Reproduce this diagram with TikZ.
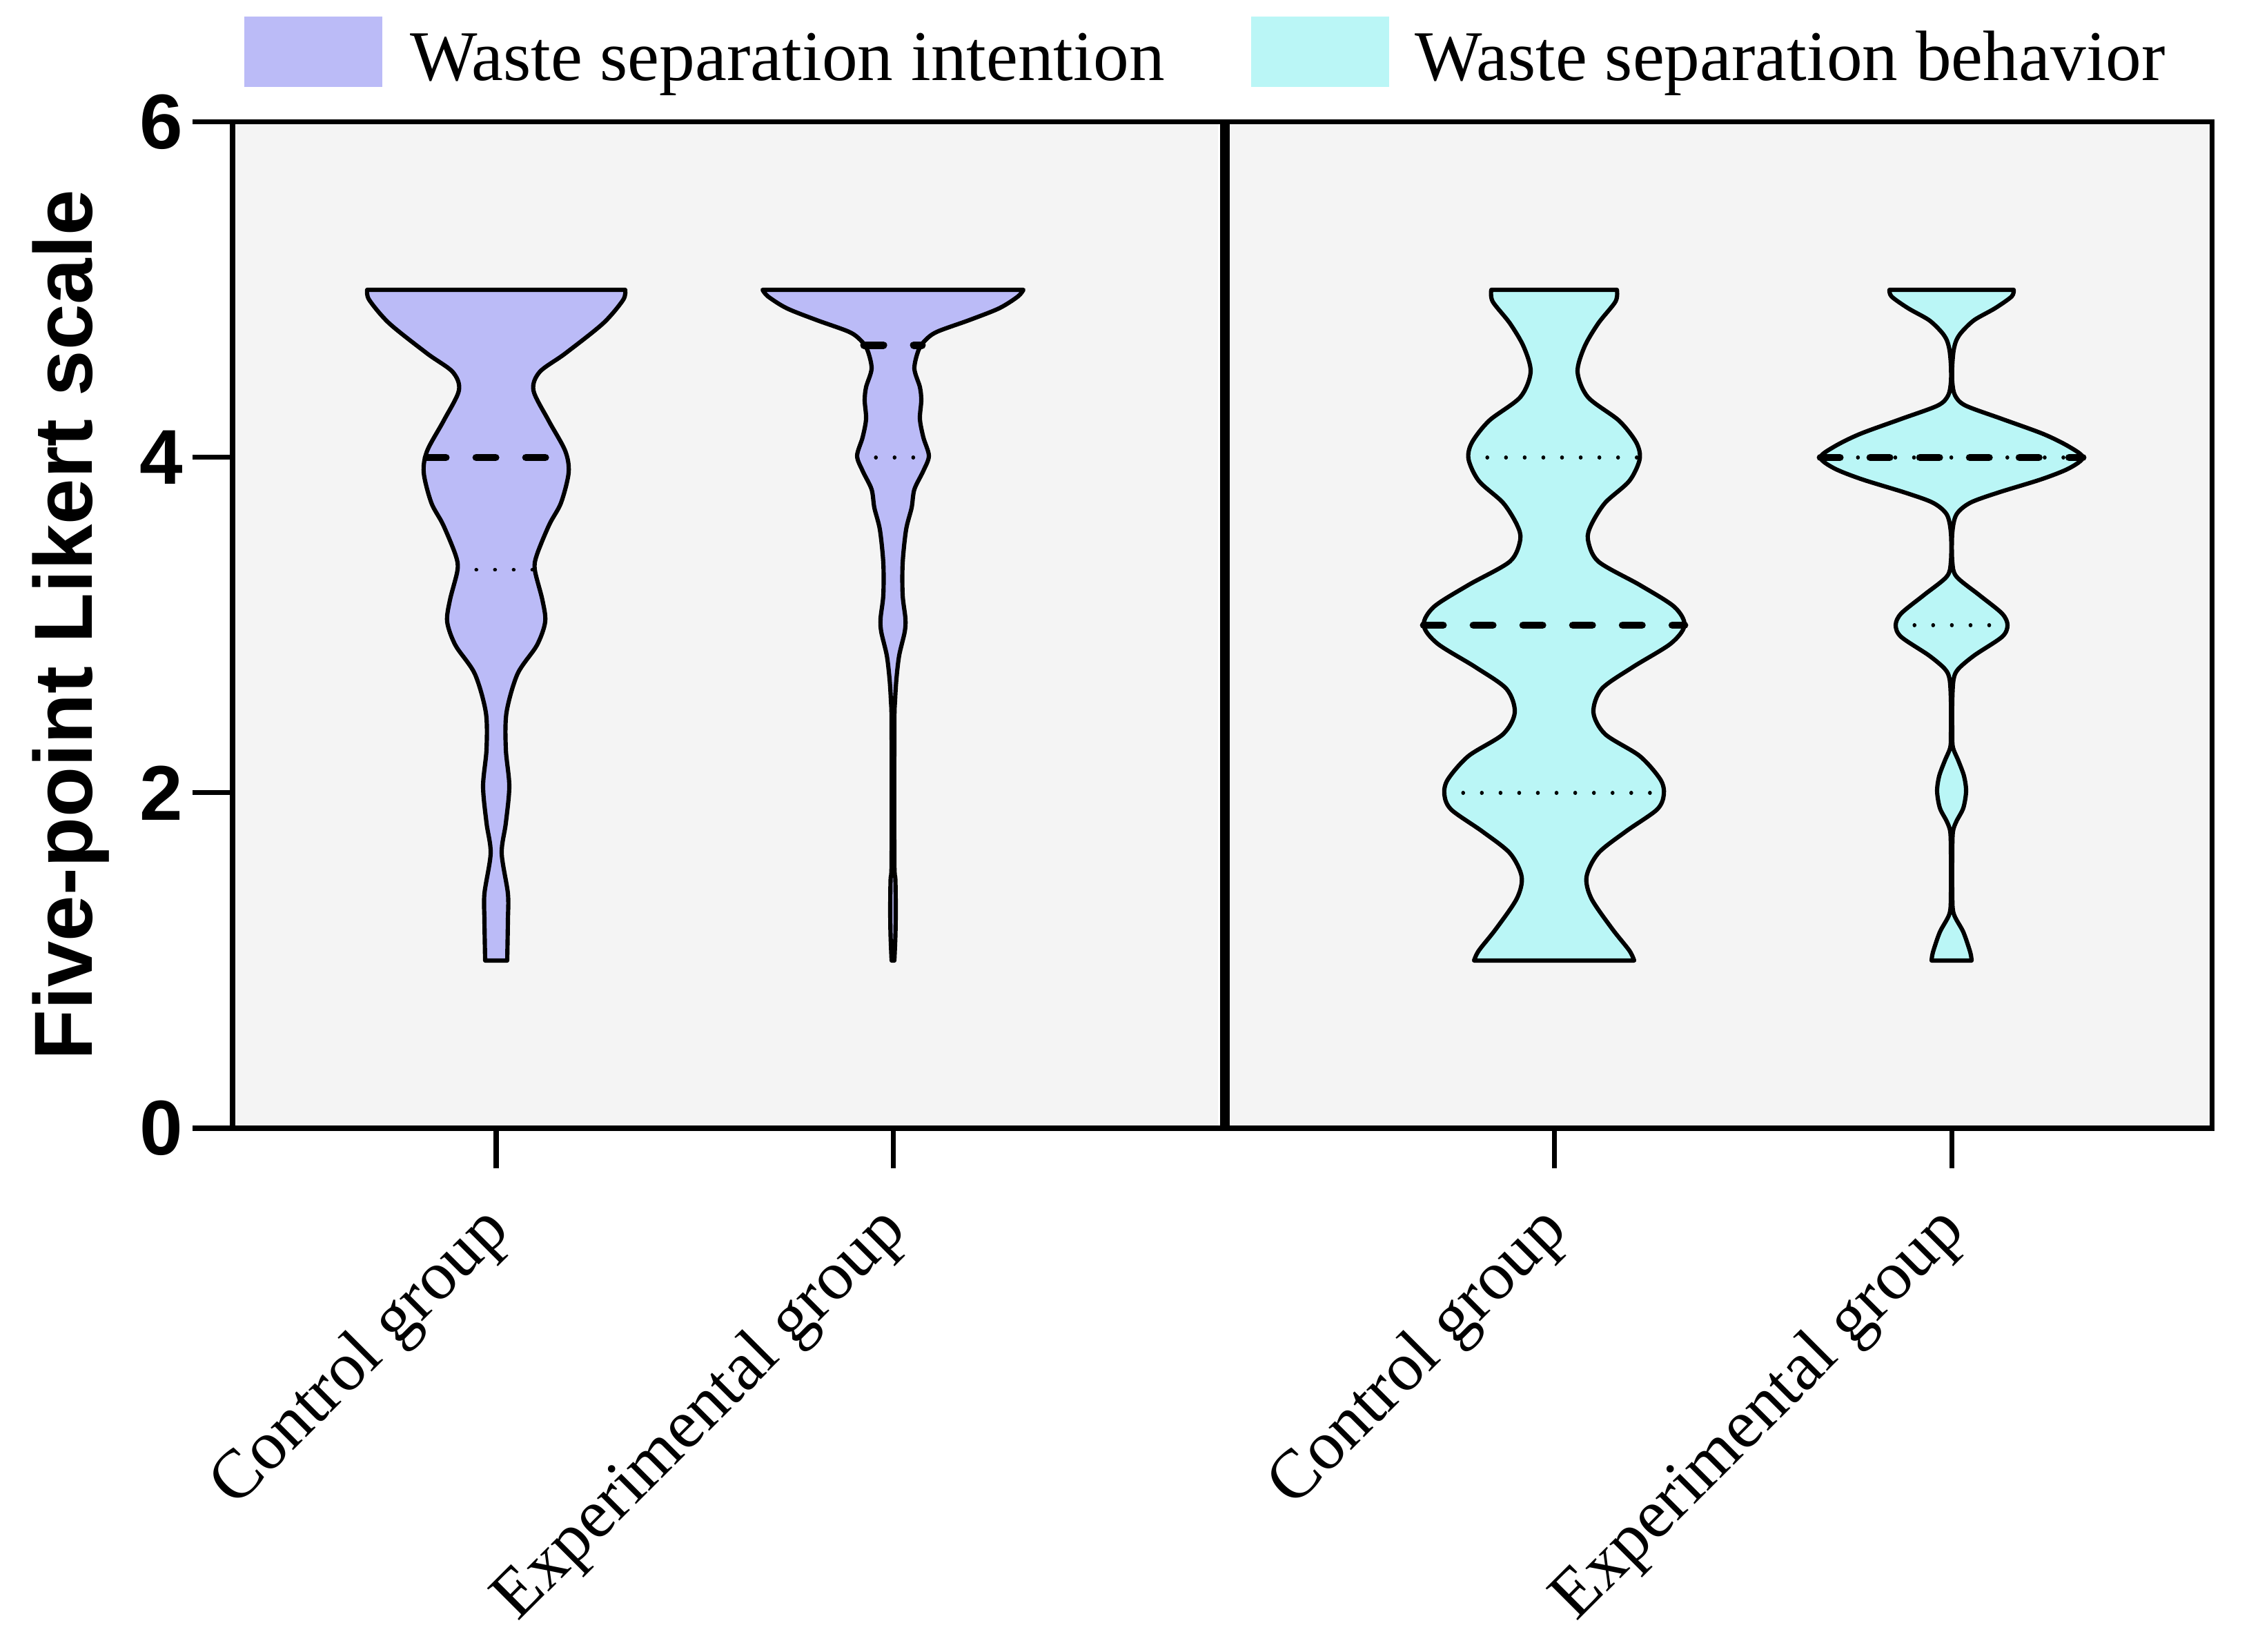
\documentclass[tikz,border=0pt]{standalone}
\usepackage{fontspec}
\setmainfont{Liberation Serif}
\setsansfont{Liberation Sans}
\definecolor{intent}{RGB}{187,187,247}
\definecolor{behav}{RGB}{186,246,246}
\definecolor{panel}{RGB}{244,244,244}

\begin{document}
\begin{tikzpicture}[
    axisline/.style={line width=2pt},
    violin/.style={line width=1.75pt, line join=round},
    median/.style={line width=3.1pt, line cap=round, dash pattern=on 8pt off 12.5pt},
    quart/.style={line width=1.5pt, line cap=round, dash pattern=on 0.1pt off 7.6pt},
    ticklab/.style={font=\sffamily\bfseries\fontsize{32}{38}\selectfont, anchor=east, inner sep=0pt},
    grouplab/.style={font=\fontsize{28.5}{34}\selectfont, anchor=east, rotate=45, inner sep=0pt},
    legbox/.style={minimum width=2cm, minimum height=1.02cm, inner sep=0pt, anchor=south west},
    legtext/.style={font=\fontsize{29.4}{35}\selectfont, anchor=base west, inner sep=0pt}
  ]
  \useasboundingbox (0,0) rectangle (32.59,23.93);

  % legend
  \node[legbox, fill=intent] (legI) at (3.53,22.66) {};
  \node[legtext] (legItxt) at ([xshift=0.39cm, yshift=0.10cm]legI.south east) {Waste separation intention};
  \node[legbox, fill=behav] (legB) at (18.12,22.66) {};
  \node[legtext] (legBtxt) at ([xshift=0.36cm, yshift=0.10cm]legB.south east) {Waste separation behavior};

  \begin{scope}[yshift=7.58cm, y=2.43cm]
    % panels
    \fill[panel] (3.37,0) rectangle (17.65,6);
    \fill[panel] (17.82,0) rectangle (32.05,6);

    % control group, intention
    \begin{scope}[xshift=7.19cm]
      \draw[violin, fill=intent] (-1.87,5.00) -- plot[smooth] coordinates {(1.87,5.00) (1.84,4.94) (1.55,4.80) (1.00,4.62) (0.63,4.51) (0.54,4.40) (0.76,4.22) (1.00,4.04) (1.05,3.91) (0.94,3.73) (0.77,3.60) (0.59,3.42) (0.56,3.33) (0.67,3.15) (0.71,3.02) (0.59,2.88) (0.31,2.71) (0.15,2.48) (0.14,2.26) (0.19,2.04) (0.14,1.82) (0.08,1.64) (0.17,1.40) (0.17,1.24) (0.16,1.00)}
        -- plot[smooth] coordinates {(-0.16,1.00) (-0.17,1.24) (-0.17,1.40) (-0.08,1.64) (-0.14,1.82) (-0.19,2.04) (-0.14,2.26) (-0.15,2.48) (-0.31,2.71) (-0.59,2.88) (-0.71,3.02) (-0.67,3.15) (-0.56,3.33) (-0.59,3.42) (-0.77,3.60) (-0.94,3.73) (-1.05,3.91) (-1.00,4.04) (-0.76,4.22) (-0.54,4.40) (-0.63,4.51) (-1.00,4.62) (-1.55,4.80) (-1.84,4.94) (-1.87,5.00)} -- cycle;
      \draw[median] (-1.01,4) -- (1.01,4);
      \draw[quart] (-0.56,3.33) -- (0.56,3.33);
    \end{scope}

    % experimental group, intention
    \begin{scope}[xshift=12.94cm]
      \draw[violin, fill=intent] (-1.89,5.00) -- plot[smooth] coordinates {(1.89,5.00) (1.81,4.96) (1.54,4.89) (1.11,4.82) (0.64,4.75) (0.47,4.70) (0.37,4.64) (0.31,4.53) (0.39,4.42) (0.41,4.34) (0.39,4.23) (0.44,4.12) (0.52,4.01) (0.44,3.92) (0.31,3.81) (0.27,3.70) (0.19,3.57) (0.14,3.37) (0.14,3.18) (0.18,3.04) (0.17,2.96) (0.09,2.82) (0.05,2.68) (0.03,2.55) (0.02,2.40) (0.02,1.60) (0.035,1.48) (0.04,1.30) (0.035,1.15) (0.02,1.00)}
        -- plot[smooth] coordinates {(-0.02,1.00) (-0.035,1.15) (-0.04,1.30) (-0.035,1.48) (-0.02,1.60) (-0.02,2.40) (-0.03,2.55) (-0.05,2.68) (-0.09,2.82) (-0.17,2.96) (-0.18,3.04) (-0.14,3.18) (-0.14,3.37) (-0.19,3.57) (-0.27,3.70) (-0.31,3.81) (-0.44,3.92) (-0.52,4.01) (-0.44,4.12) (-0.39,4.23) (-0.41,4.34) (-0.39,4.42) (-0.31,4.53) (-0.37,4.64) (-0.47,4.70) (-0.64,4.75) (-1.11,4.82) (-1.54,4.89) (-1.81,4.96) (-1.89,5.00)} -- cycle;
      \draw[median] (-0.42,4.67) -- (0.42,4.67);
      \draw[quart] (-0.52,4) -- (0.52,4);
    \end{scope}

    % control group, behavior
    \begin{scope}[xshift=22.52cm]
      \draw[violin, fill=behav] (-0.91,5.00) -- plot[smooth] coordinates {(0.91,5.00) (0.89,4.93) (0.64,4.80) (0.44,4.66) (0.34,4.51) (0.49,4.36) (0.94,4.22) (1.19,4.09) (1.24,3.99) (1.09,3.86) (0.74,3.73) (0.54,3.60) (0.49,3.51) (0.64,3.38) (1.24,3.24) (1.74,3.11) (1.89,3.00) (1.69,2.89) (1.14,2.75) (0.69,2.62) (0.57,2.48) (0.74,2.35) (1.24,2.22) (1.54,2.08) (1.59,1.99) (1.49,1.90) (1.04,1.77) (0.64,1.64) (0.47,1.50) (0.54,1.37) (0.84,1.19) (1.09,1.06) (1.16,1.00)}
        -- plot[smooth] coordinates {(-1.16,1.00) (-1.09,1.06) (-0.84,1.19) (-0.54,1.37) (-0.47,1.50) (-0.64,1.64) (-1.04,1.77) (-1.49,1.90) (-1.59,1.99) (-1.54,2.08) (-1.24,2.22) (-0.74,2.35) (-0.57,2.48) (-0.69,2.62) (-1.14,2.75) (-1.69,2.89) (-1.89,3.00) (-1.74,3.11) (-1.24,3.24) (-0.64,3.38) (-0.49,3.51) (-0.54,3.60) (-0.74,3.73) (-1.09,3.86) (-1.24,3.99) (-1.19,4.09) (-0.94,4.22) (-0.49,4.36) (-0.34,4.51) (-0.44,4.66) (-0.64,4.80) (-0.89,4.93) (-0.91,5.00)} -- cycle;
      \draw[median] (-1.89,3) -- (1.89,3);
      \draw[quart] (-1.24,4) -- (1.24,4);
      \draw[quart] (-1.59,2) -- (1.59,2);
    \end{scope}

    % experimental group, behavior
    \begin{scope}[xshift=28.28cm]
      \draw[violin, fill=behav] (-0.90,5.00) -- plot[smooth] coordinates {(0.90,5.00) (0.87,4.96) (0.63,4.89) (0.33,4.82) (0.15,4.75) (0.07,4.70) (0.03,4.64) (0.01,4.55) (0.01,4.45) (0.05,4.37) (0.20,4.31) (0.73,4.23) (1.33,4.14) (1.70,4.065) (1.90,4.00) (1.70,3.935) (1.30,3.87) (0.67,3.79) (0.27,3.73) (0.07,3.66) (0.01,3.55) (0.01,3.38) (0.07,3.29) (0.40,3.18) (0.73,3.07) (0.81,3.00) (0.73,2.93) (0.33,2.82) (0.10,2.74) (0.03,2.68) (0.01,2.55) (0.01,2.35) (0.02,2.27) (0.10,2.19) (0.18,2.10) (0.21,2.01) (0.17,1.91) (0.07,1.83) (0.02,1.77) (0.01,1.65) (0.01,1.40) (0.03,1.28) (0.17,1.17) (0.27,1.05) (0.29,1.00)}
        -- plot[smooth] coordinates {(-0.29,1.00) (-0.27,1.05) (-0.17,1.17) (-0.03,1.28) (-0.01,1.40) (-0.01,1.65) (-0.02,1.77) (-0.07,1.83) (-0.17,1.91) (-0.21,2.01) (-0.18,2.10) (-0.10,2.19) (-0.02,2.27) (-0.01,2.35) (-0.01,2.55) (-0.03,2.68) (-0.10,2.74) (-0.33,2.82) (-0.73,2.93) (-0.81,3.00) (-0.73,3.07) (-0.40,3.18) (-0.07,3.29) (-0.01,3.38) (-0.01,3.55) (-0.07,3.66) (-0.27,3.73) (-0.67,3.79) (-1.30,3.87) (-1.70,3.935) (-1.90,4.00) (-1.70,4.065) (-1.33,4.14) (-0.73,4.23) (-0.20,4.31) (-0.05,4.37) (-0.01,4.45) (-0.01,4.55) (-0.03,4.64) (-0.07,4.70) (-0.15,4.75) (-0.33,4.82) (-0.63,4.89) (-0.87,4.96) (-0.90,5.00)} -- cycle;
      \draw[median] (-1.90,4) -- (1.90,4);
      \draw[quart] (-1.90,4) -- (1.90,4);
      \draw[quart] (-0.81,3) -- (0.81,3);
    \end{scope}

    % frame and axes
    \draw[axisline] (2.79,6) -- (32.05,6) -- (32.05,0) -- (2.79,0);
    \draw[axisline] (3.37,6) -- (3.37,0);
    \draw[line width=4pt] (17.75,6) -- (17.75,0);
    \draw[axisline] (2.79,2) -- (3.37,2);
    \draw[axisline] (2.79,4) -- (3.37,4);
    \node[ticklab] (y0) at (2.66,0) {0};
    \node[ticklab] (y2) at (2.66,2) {2};
    \node[ticklab] (y4) at (2.66,4) {4};
    \node[ticklab] (y6) at (2.66,6) {6};
    \node[font=\sffamily\bfseries\fontsize{34}{40}\selectfont, rotate=90, anchor=base, inner sep=0pt] (ylab) at (1.34,3) {Five-point Likert scale};

    % x ticks and group labels
    \coordinate (tk1) at (7.19,0);
    \coordinate (tk2) at (12.94,0);
    \coordinate (tk3) at (22.52,0);
    \coordinate (tk4) at (28.28,0);
    \draw[axisline] (tk1) -- ++(0,-0.58cm);
    \draw[axisline] (tk2) -- ++(0,-0.58cm);
    \draw[axisline] (tk3) -- ++(0,-0.58cm);
    \draw[axisline] (tk4) -- ++(0,-0.58cm);
    \node[grouplab] (g1) at ([xshift=0.05cm, yshift=-1.34cm]tk1) {Control group};
    \node[grouplab] (g2) at ([xshift=0.05cm, yshift=-1.34cm]tk2) {Experimental group};
    \node[grouplab] (g3) at ([xshift=0.05cm, yshift=-1.34cm]tk3) {Control group};
    \node[grouplab] (g4) at ([xshift=0.05cm, yshift=-1.34cm]tk4) {Experimental group};
  \end{scope}
\end{tikzpicture}
\end{document}
